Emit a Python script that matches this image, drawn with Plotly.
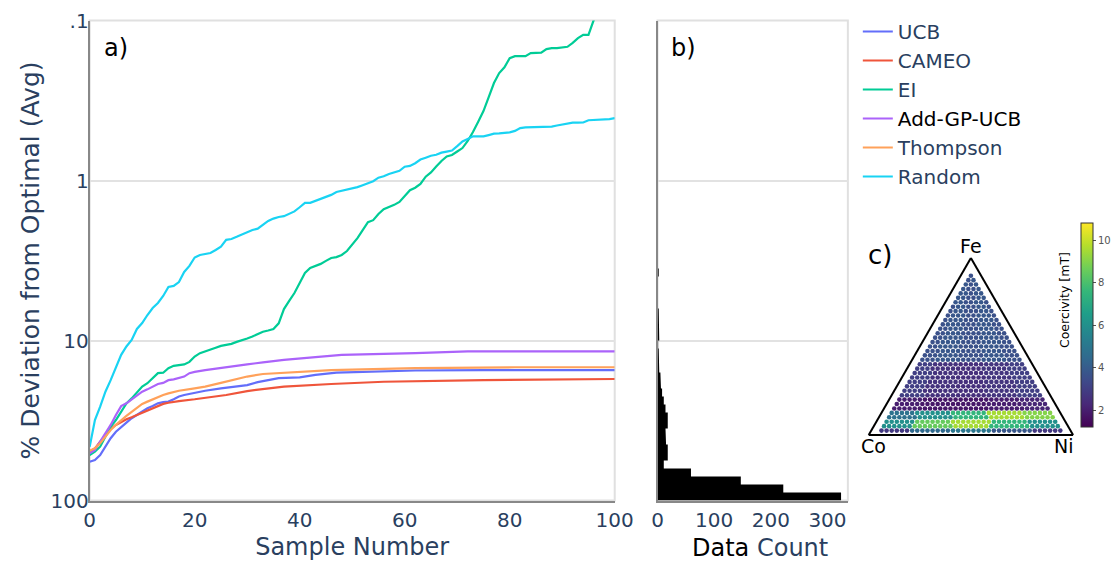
import plotly.graph_objects as go

W, H = 1112, 562
WE = 1083.0   # effective rendered width used for horizontal placement
FONT = "DejaVu Sans"
AX = "#2a3f5f"

# ---------------- data: panel a ----------------
ucb_x = [0,1,2,3,4,5,6,7,8,9,10,11,12,13,14,15,16,17,18,20,22,25,28,30,32,34,36,40,43,47,52,62,75,100]
ucb_y = [57.2,55.8,52.0,46.1,40.8,37.2,34.6,32.6,30.6,29.2,27.9,26.5,25.7,24.7,24.3,24.1,23.3,22.4,21.9,21.2,
         20.6,19.9,19.4,19.0,18.2,17.7,17.2,17.0,16.4,15.9,15.7,15.4,15.3,15.3]

cameo_x = [0,1,2,3,4,5,6,7,8,9,10,11,12,13,14,15,17,20,23,26,30,33,37,46,56,75,100]
cameo_y = [49.5,47.2,42.9,39.0,35.7,33.7,32.2,31.1,30.2,29.2,28.5,27.5,26.5,25.7,24.9,24.5,23.9,23.3,22.6,21.9,
           20.7,20.2,19.4,18.7,18.1,17.7,17.4]

ei_x = list(range(0, 101))
ei_y = [52.0,49.5,46.1,39.9,34.6,31.4,27.9,24.7,23.0,21.2,
        19.4,18.5,17.2,16.0,15.9,14.9,14.4,14.2,14.1,13.6,
        12.6,12.0,11.7,11.5,11.1,10.8,10.7,10.5,10.2,10.0,
        9.72,9.44,9.10,8.81,8.66,8.47,7.81,6.36,5.66,5.05,
        4.37,3.78,3.52,3.42,3.32,3.18,3.05,3.01,2.92,2.76,
        2.53,2.29,2.04,1.82,1.77,1.62,1.51,1.47,1.42,1.36,
        1.25,1.15,1.11,1.05,0.946,0.89,0.818,0.755,0.708,0.693,
        0.659,0.627,0.566,0.498,0.429,0.368,0.301,0.246,0.213,0.196,
        0.172,0.167,0.167,0.167,0.160,0.159,0.159,0.151,0.149,0.149,
        0.147,0.146,0.138,0.129,0.123,0.123,0.0993,0.085,0.075,0.070,0.065]

agp_x = [0,1,2,3,4,5,6,7,8,9,10,11,12,13,14,15,16,17,18,19,20,22,25,28,30,33,37,43,48,62,72,100]
agp_y = [50.7,48.3,42.9,38.0,33.7,29.2,25.7,24.7,23.3,21.9,20.9,20.2,19.4,18.7,18.4,17.7,17.5,17.2,16.8,16.0,
         15.7,15.3,14.8,14.4,14.1,13.7,13.2,12.7,12.3,12.0,11.7,11.7]

thomp_x = [0,1,2,3,4,5,6,7,8,9,10,11,12,13,14,15,17,20,22,25,28,30,33,37,46,62,81,100]
thomp_y = [48.8,47.2,43.9,39.9,36.3,33.7,31.4,29.6,27.9,26.2,24.9,24.1,23.3,22.4,21.9,21.4,20.6,19.9,19.4,18.4,
           17.5,16.8,16.2,15.9,15.3,14.9,14.7,14.7]

rand_x = list(range(0, 101))
rand_y = [46.1,31.4,25.9,20.9,17.7,14.6,12.3,10.9,9.93,8.47,
          7.78,6.93,6.27,5.83,5.27,4.63,4.56,4.31,3.73,3.42,
          3.03,2.92,2.88,2.84,2.72,2.59,2.35,2.32,2.25,2.18,
          2.11,2.04,2.00,1.90,1.79,1.73,1.69,1.67,1.62,1.56,
          1.47,1.38,1.38,1.34,1.29,1.26,1.23,1.18,1.16,1.15,
          1.13,1.10,1.07,1.04,1.01,0.96,0.94,0.91,0.89,0.87,
          0.82,0.81,0.78,0.74,0.72,0.70,0.69,0.67,0.66,0.65,
          0.61,0.57,0.55,0.53,0.53,0.53,0.52,0.51,0.508,0.505,
          0.50,0.49,0.47,0.465,0.464,0.46,0.46,0.46,0.46,0.453,
          0.447,0.44,0.435,0.435,0.434,0.42,0.418,0.418,0.418,0.413,0.408]

series_names = ["UCB", "CAMEO", "EI", "<span style='color:black'>Add-GP-UCB</span>", "Thompson", "Random"]
series_colors = ["#636efa", "#EF553B", "#00cc96", "#ab63fa", "#FFA15A", "#19d3f3"]

# ---------------- data: panel b (histogram, log-spaced bins from 100 downward) ----------------
hist_counts = [324, 222, 147, 59, 11, 18, 18, 15, 14, 18, 18, 14, 11, 8, 6, 5, 3, 2, 2, 1,
               3, 3, 2, 2, 0, 0, 0, 0, 2, 0, 0]
hist_bin_decades = 0.05   # bin width in decades
hist_top_value = 100.0

# ---------------- data: panel c (ternary) ----------------
fe_band_upper = [2.5, 7.5, 12.5, 20.0, 40.0, 90.0]
coercivity_table = [
    [2.8, 4.5, 5.0, 3.8, 2.8],
    [6.0, 8.5, 9.5, 7.5, 6.0],
    [4.8, 6.0, 7.5, 9.5, 9.0],
    [2.0, 1.8, 1.8, 2.0, 2.2],
    [3.0, 2.6, 2.5, 2.7, 3.0],
    [3.6, 3.8, 3.6, 3.8, 3.6],
]
grid_step = 2.5
coer_min, coer_max = 1.2, 10.8

fig = go.Figure()

xs = [ucb_x, cameo_x, ei_x, agp_x, thomp_x, rand_x]
ys = [ucb_y, cameo_y, ei_y, agp_y, thomp_y, rand_y]
for name, col, x, y in zip(series_names, series_colors, xs, ys):
    fig.add_trace(go.Scatter(x=x, y=y, mode="lines", name=name,
                             line=dict(color=col, width=2.2), xaxis="x", yaxis="y"))

# histogram as filled step outline
edges = [hist_top_value * 10 ** (-hist_bin_decades * k) for k in range(len(hist_counts) + 1)]
hx, hy = [0], [edges[0]]
for i, c in enumerate(hist_counts):
    hx += [c, c]
    hy += [edges[i], edges[i + 1]]
hx.append(0)
hy.append(edges[-1])
fig.add_trace(go.Scatter(x=hx, y=hy, mode="lines", fill="toself", fillcolor="black",
                         line=dict(color="black", width=0), showlegend=False,
                         xaxis="x2", yaxis="y2", hoverinfo="skip"))

# ternary grid
fa, fb, fc, fv = [], [], [], []
n = int(round(100 / grid_step))
for i in range(1, n + 1):
    fe = i * grid_step
    if fe > fe_band_upper[-1] + 1e-9:
        continue
    band = next(k for k, u in enumerate(fe_band_upper) if fe <= u + 1e-9)
    for j in range(0, n + 1):
        co = j * grid_step
        ni = 100 - fe - co
        if co < 5 - 1e-9 or ni < 5 - 1e-9:
            continue
        frac = ni / (co + ni)
        col_i = min(int(frac * 5), 4)
        fa.append(fe); fb.append(co); fc.append(ni)
        fv.append(coercivity_table[band][col_i])

fig.add_trace(go.Scatterternary(
    a=fa, b=fb, c=fc, mode="markers", showlegend=False, hoverinfo="skip",
    marker=dict(size=4.6, color=fv, colorscale="Viridis", cmin=coer_min, cmax=coer_max,
                line=dict(width=0),
                colorbar=dict(x=1085 / WE, xanchor="left", y=1 - 427 / H, yanchor="bottom",
                              len=204 / H, lenmode="fraction", thickness=12, ypad=0, xpad=0,
                              outlinewidth=1, outlinecolor="#333",
                              ticks="outside", ticklen=3, tickcolor="#555",
                              tickvals=[2, 4, 6, 8, 10],
                              tickfont=dict(family=FONT, size=10, color="#555"),
                              title=dict(text="")))))

def ypaper(px):
    return 1 - px / H

def xpaper(px):
    return px / WE

log_ticks = [0.1, 1, 10, 100]
log_text = [".1", "1", "10", "100"]
ydom = [ypaper(500.5), ypaper(20.5)]

fig.update_layout(
    width=W, height=H, autosize=False,
    margin=dict(l=0, r=0, t=0, b=0),
    paper_bgcolor="white", plot_bgcolor="white",
    font=dict(family=FONT, color=AX, size=20),
    xaxis=dict(domain=[xpaper(90), xpaper(617)], range=[0, 100], tickvals=[0, 20, 40, 60, 80, 100],
               showgrid=False, zeroline=False, showline=True, linecolor="#888", linewidth=2,
               ticks="", tickfont=dict(size=20), automargin=False,
               title=dict(text="Sample Number", font=dict(size=24), standoff=8)),
    yaxis=dict(domain=ydom, type="log", range=[2, -1], tickvals=log_ticks, ticktext=log_text,
               showgrid=True, gridcolor="#e2e2e2", gridwidth=2, zeroline=False,
               showline=True, linecolor="#888", linewidth=2, ticks="", automargin=False,
               tickfont=dict(size=20), ticklabelstandoff=-5,
               title=dict(text="% Deviation from Optimal (Avg)", font=dict(size=25), standoff=4)),
    xaxis2=dict(domain=[xpaper(660), xpaper(851)], anchor="y2", range=[0, 336], tickvals=[0, 100, 200, 300],
                showgrid=False, zeroline=False, showline=True, linecolor="#888", linewidth=2,
                ticks="", tickfont=dict(size=20), automargin=False),
    yaxis2=dict(domain=ydom, anchor="x2", type="log", range=[2, -1], tickvals=log_ticks,
                showticklabels=False, showgrid=True, gridcolor="#e2e2e2", gridwidth=2,
                zeroline=False, showline=True, linecolor="#888", linewidth=2, ticks="",
                automargin=False),
    ternary=dict(domain=dict(x=[xpaper(870), xpaper(1079)], y=[ypaper(435), ypaper(258)]),
                 sum=100, bgcolor="white",
                 aaxis=dict(showticklabels=False, ticks="", showgrid=False, linecolor="black",
                            linewidth=2, title=dict(text="")),
                 baxis=dict(showticklabels=False, ticks="", showgrid=False, linecolor="black",
                            linewidth=2, title=dict(text="")),
                 caxis=dict(showticklabels=False, ticks="", showgrid=False, linecolor="black",
                            linewidth=2, title=dict(text=""))),
    legend=dict(x=xpaper(861), y=ypaper(12), xanchor="left", yanchor="top",
                font=dict(size=20, color=AX), bgcolor="rgba(0,0,0,0)", borderwidth=0),
    showlegend=True,
)

# light-gray frame (top/right borders)
for xr, yr in (("x domain", "y domain"), ("x2 domain", "y2 domain")):
    fig.add_shape(type="rect", xref=xr, yref=yr, x0=0, x1=1, y0=0, y1=1,
                  line=dict(color="#e0e0e0", width=2), layer="below")

ann = [
    ("a)", 116, 48, 24, 0, "black"),
    ("b)", 686, 48, 24, 0, "black"),
    ("c)", 883, 255, 26, 0, "black"),
    ("Fe", 975, 246, 19, 0, "black"),
    ("Co", 877, 446, 19, 0, "black"),
    ("Ni", 1068, 446, 19, 0, "black"),
    ("Coercivity [mT]", 1069, 300, 12.5, -90, "black"),
    ("<span style='color:black'>Data</span> Count", 763, 548, 24, 0, AX),
]
for txt, px, py, sz, ang, colr in ann:
    fig.add_annotation(text=txt, x=xpaper(px), y=ypaper(py), xref="paper", yref="paper",
                       showarrow=False, xanchor="center", yanchor="middle", textangle=ang,
                       font=dict(family=FONT, size=sz, color=colr))

fig.write_html("out.html")
